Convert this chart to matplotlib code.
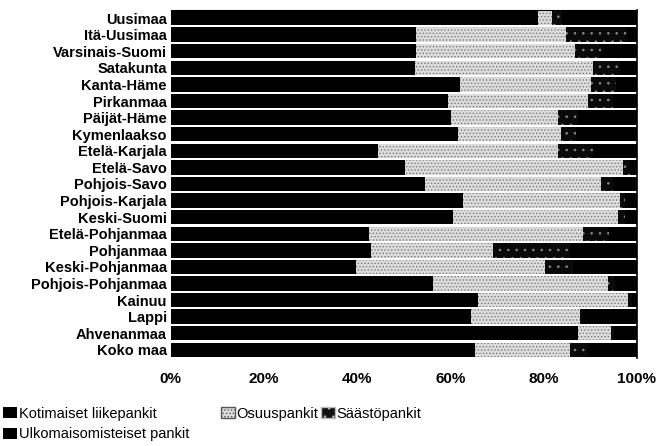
import matplotlib
matplotlib.use("Agg")
import matplotlib.pyplot as plt
from matplotlib.patches import Patch
import numpy as np

plt.rcParams['font.family'] = ['Liberation Sans', 'DejaVu Sans']
plt.rcParams['hatch.linewidth'] = 0.6

regions = ["Uusimaa", "Itä-Uusimaa", "Varsinais-Suomi", "Satakunta", "Kanta-Häme",
           "Pirkanmaa", "Päijät-Häme", "Kymenlaakso", "Etelä-Karjala", "Etelä-Savo",
           "Pohjois-Savo", "Pohjois-Karjala", "Keski-Suomi", "Etelä-Pohjanmaa",
           "Pohjanmaa", "Keski-Pohjanmaa", "Pohjois-Pohjanmaa", "Kainuu", "Lappi",
           "Ahvenanmaa", "Koko maa"]

# shares in percent
kotimaiset = [78.8, 52.7, 52.7, 52.4, 62.0, 59.5, 60.2, 61.7, 44.5, 50.2, 54.5,
              62.7, 60.6, 42.6, 43.0, 39.8, 56.3, 65.9, 64.5, 87.4, 65.2]
osuus = [3.0, 32.2, 34.0, 38.2, 28.3, 30.1, 22.9, 22.1, 38.6, 46.9, 37.9,
         33.7, 35.4, 45.9, 26.2, 40.5, 37.5, 32.2, 23.3, 7.2, 20.4]
saasto = [2.2, 13.1, 5.7, 5.8, 5.3, 5.3, 4.3, 3.2, 7.5, 1.4, 2.5,
          1.0, 1.4, 5.5, 16.4, 6.0, 1.5, 1.0, 0.5, 0.5, 3.9]
ulkomais = [100 - a - b - c for a, b, c in zip(kotimaiset, osuus, saasto)]

xticks = [0, 20, 40, 60, 80, 100]
xticklabels = ["0%", "20%", "40%", "60%", "80%", "100%"]

fig = plt.figure(figsize=(6.57, 4.46), dpi=100)
ax = fig.add_axes([0.260, 0.197, 0.709, 0.781])

y = np.arange(len(regions))
h = 0.87

left = np.zeros(len(regions))
ax.barh(y, kotimaiset, left=left, height=h, color='#000000', linewidth=0)
left += np.array(kotimaiset)
ax.barh(y, osuus, left=left, height=h, facecolor='#dcdcdc', edgecolor='#7a7a7a',
        hatch='.....', linewidth=0)
left += np.array(osuus)
ax.barh(y, saasto, left=left, height=h, facecolor='#0a0a0a', edgecolor='#8a8a8a',
        hatch='..', linewidth=0)
left += np.array(saasto)
ax.barh(y, ulkomais, left=left, height=h, color='#000000', linewidth=0)

ax.set_xlim(0, 100)
ax.set_ylim(len(regions) - 0.5, -0.5)
ax.set_yticks(y)
ax.set_yticklabels(regions, fontsize=10.5, fontweight='bold')
ax.set_xticks(xticks)
ax.set_xticklabels(xticklabels, fontsize=11, fontweight='bold')
ax.tick_params(axis='both', length=0)
ax.tick_params(axis='x', pad=10)
ax.tick_params(axis='y', pad=3)
for s in ['left', 'bottom']:
    ax.spines[s].set_visible(False)
ax.spines['top'].set_linewidth(0.8)
ax.spines['right'].set_linewidth(1.2)

leg_kw = dict(loc='upper left', frameon=False, prop={'size': 10.5},
              handlelength=0.95, handleheight=0.8, handletextpad=0.1,
              labelspacing=0.45, borderpad=0.0, borderaxespad=0.0)
h1 = [Patch(facecolor='#000000', label='Kotimaiset liikepankit'),
      Patch(facecolor='#000000', label='Ulkomaisomisteiset pankit')]
h2 = [Patch(facecolor='#dcdcdc', edgecolor='#555555', hatch='.....', label='Osuuspankit')]
h3 = [Patch(facecolor='#111111', edgecolor='#bbbbbb', hatch='..', label='Säästöpankit')]
fig.legend(handles=h1, bbox_to_anchor=(0.005, 0.088), **leg_kw)
fig.legend(handles=h2, bbox_to_anchor=(0.337, 0.088), **leg_kw)
fig.legend(handles=h3, bbox_to_anchor=(0.489, 0.088), **leg_kw)

fig.savefig('out.png', dpi=100)
